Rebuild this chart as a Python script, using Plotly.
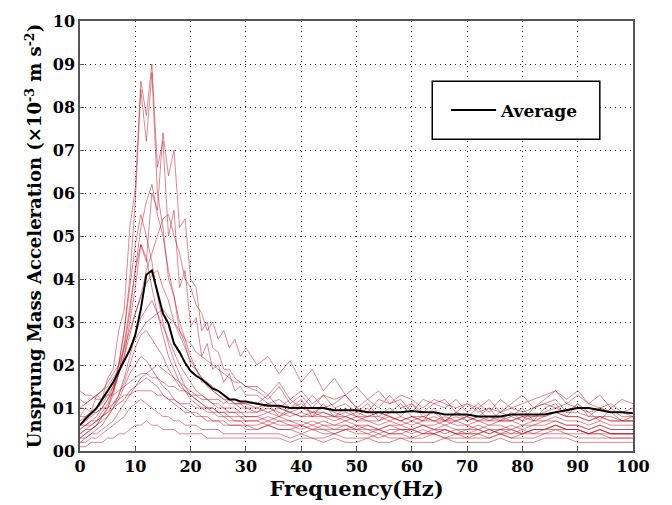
import plotly.graph_objects as go

# Frequency grid (Hz): 1 Hz steps to 30 Hz, then 2 Hz steps to 100 Hz
freq = list(range(0, 31)) + list(range(32, 101, 2))

# Individual runs (values in units of 0.01 x10^-3 m s^-2, i.e. axis label "01" = 10)
c1 = [8,10,9,13,12,17,19,28,33,52,61,86,78,90,66,72,50,56,38,42,29,31,22,25,19,20,16,18,14,15,13,
      13,11,12,10,11,9,10,9,8,9,8,9,8,7,8,8,7,8,7,8,7,8,7,7,8,7,8,9,8,8,7,8,7,7,7]
c2 = [5,6,7,8,10,12,15,20,28,40,58,84,72,88,60,52,40,36,28,25,20,19,16,16,14,13,12,12,11,11,10,
      10,9,10,9,8,9,8,8,7,8,7,7,8,7,6,7,7,6,7,6,7,6,7,7,6,7,7,8,7,7,6,7,6,6,6]
c3 = [6,7,8,9,10,12,14,18,22,30,38,48,44,60,56,74,64,70,52,54,40,38,28,30,24,23,19,19,17,16,15,
      14,12,15,11,13,10,13,10,11,9,11,8,10,8,11,8,9,7,9,8,10,7,9,8,10,7,10,11,8,11,9,7,10,8,8]
c4 = [4,5,6,7,9,11,14,18,24,32,42,52,58,62,55,50,42,36,30,26,22,19,17,15,14,13,12,11,11,10,10,
      9,10,9,8,9,8,8,7,8,7,7,6,7,6,7,6,6,7,6,6,5,6,6,5,6,6,7,7,6,6,5,6,5,5,5]
c5 = [10,11,12,13,14,16,18,20,24,28,32,36,42,46,50,54,55,50,46,40,38,34,32,28,30,26,28,24,26,22,24,
      20,22,18,21,16,19,14,17,13,15,12,14,11,13,12,10,12,11,10,11,9,10,9,10,9,10,11,10,11,10,9,10,9,9,8]
c6 = [3,4,5,6,8,10,13,18,25,34,42,48,45,38,32,27,22,19,16,14,12,11,10,9,9,8,8,7,7,7,6,
      6,7,6,6,5,6,5,5,6,5,5,4,5,5,4,5,4,5,4,4,5,4,5,4,4,5,5,6,5,5,4,5,4,4,4]
c7 = [7,8,9,10,11,13,15,18,22,27,32,36,39,41,42,38,35,30,27,24,21,19,17,16,15,14,13,12,12,11,11,
      10,11,10,9,10,9,9,8,9,8,8,9,8,7,8,7,8,7,7,8,7,7,8,7,8,8,9,10,9,9,8,8,8,7,7]
c8 = [2,3,4,5,6,8,10,13,17,22,27,31,33,35,32,29,26,23,20,18,16,14,13,12,11,10,10,9,9,8,8,
      8,7,8,7,7,6,7,6,6,5,6,5,6,5,5,6,5,5,4,5,5,4,5,5,4,5,5,6,5,5,4,5,4,4,4]
c9 = [12,11,12,13,14,15,17,19,21,24,26,28,30,31,32,33,31,30,28,26,25,23,22,21,20,19,18,17,16,16,15,
      15,13,16,12,14,11,13,12,13,10,12,10,13,10,11,9,11,10,12,9,11,9,12,10,11,12,13,14,11,13,11,10,11,9,10]
c10 = [5,6,6,7,8,9,11,13,16,20,24,27,28,26,24,22,19,17,15,14,13,12,11,10,10,9,9,8,8,8,7,
       7,8,7,7,6,7,6,6,7,6,6,5,6,6,5,6,5,6,5,5,6,5,5,6,5,6,6,7,6,6,5,6,5,5,5]
c11 = [4,5,5,6,7,8,10,12,15,18,20,22,21,19,17,15,14,12,11,10,9,9,8,8,7,7,7,6,6,6,6,
       5,6,5,5,4,5,4,4,5,4,4,3,4,4,3,4,4,3,4,3,4,3,4,3,4,4,4,5,4,4,4,4,3,3,3]
c12 = [6,6,7,7,8,9,10,11,12,14,15,17,18,19,20,19,18,17,16,15,14,13,12,12,11,11,10,10,10,9,9,
       9,11,8,10,12,8,11,8,10,8,10,7,9,11,8,7,10,7,9,7,8,10,7,9,7,10,11,12,9,11,8,10,9,7,8]
c13 = [3,3,4,4,5,6,7,9,11,13,15,16,17,16,15,13,12,11,10,9,9,8,8,7,7,7,6,6,6,6,5,
       5,6,5,5,6,5,5,4,5,5,4,5,4,4,5,4,4,5,4,4,4,5,4,4,5,4,5,5,5,5,4,4,4,4,4]
c14 = [8,8,9,9,10,10,11,12,13,13,14,14,14,14,13,13,12,12,11,11,11,10,10,10,10,9,9,9,9,9,8,
       8,9,8,9,8,8,9,8,8,7,8,8,7,8,7,8,7,7,8,7,8,7,7,8,7,8,8,9,8,8,7,8,7,7,7]
c15 = [2,2,3,3,4,5,6,7,8,10,11,12,11,10,9,8,8,7,7,6,6,6,5,5,5,5,4,4,4,4,4,
       4,4,4,3,4,3,3,4,3,3,3,4,3,3,3,3,4,3,3,3,3,3,4,3,3,3,4,4,4,3,3,3,3,3,3]
c16 = [1,1,2,2,2,3,3,4,4,5,6,6,7,6,6,5,5,5,4,4,4,4,4,3,3,3,3,3,3,3,3,
       3,3,3,2,3,3,2,3,2,2,3,2,2,3,2,2,2,3,2,2,2,2,3,2,2,2,3,3,3,2,2,2,2,2,2]
c17 = [14,13,13,12,12,13,13,14,15,16,17,18,18,17,17,16,15,15,14,14,13,13,13,12,12,12,11,12,11,11,11,
       11,13,10,12,10,13,10,11,13,10,9,12,11,12,9,12,11,12,9,11,10,12,9,11,13,10,12,14,12,14,11,13,10,12,11]
c18 = [3,4,5,6,8,10,14,20,28,38,48,55,50,44,36,30,25,21,18,15,13,12,11,10,9,9,8,8,7,7,7,
       7,6,7,6,6,5,6,5,5,6,5,5,4,5,5,4,5,4,5,4,4,5,4,5,4,5,5,6,5,5,4,5,4,4,4]

average = [6,7.5,8.7,10,12,14,16,18.5,21,23.5,27,33,41,42,37,32,29.6,25,23,20.5,18.6,17.5,16.7,15.5,14.5,14,13,12,12,11.5,11.5,
           11,10.5,10.5,10,10,10,10,9.5,9.5,9.5,9,9,9,9,9.3,9,9,8.5,8.5,8.5,8,8,8,8.5,8.5,8.5,8.5,9,9.5,10,10,9.5,9,9,8.8]

runs = [c1, c2, c3, c4, c5, c6, c7, c8, c9, c10, c11, c12, c13, c14, c15, c16, c17, c18]

xticks = [0, 10, 20, 30, 40, 50, 60, 70, 80, 90, 100]
xtick_text = ["0", "10", "20", "30", "40", "50", "60", "70", "80", "90", "100"]
yticks = [0, 10, 20, 30, 40, 50, 60, 70, 80, 90, 100]
ytick_text = ["00", "01", "02", "03", "04", "05", "06", "07", "08", "09", "10"]

FONT = "DejaVu Serif"

fig = go.Figure()
for r in runs:
    fig.add_trace(go.Scatter(x=freq, y=r, mode="lines",
                             line=dict(color="rgba(185,15,30,0.55)", width=0.9),
                             showlegend=False, hoverinfo="skip"))
fig.add_trace(go.Scatter(x=freq, y=average, mode="lines", name="<b>Average</b>",
                         line=dict(color="black", width=2)))

axis_common = dict(showline=True, linecolor="#555", linewidth=1.5, mirror=True,
                   showgrid=True, gridcolor="#222", griddash="1px,4px", gridwidth=1.3,
                   ticks="inside", ticklen=4, tickcolor="#555", zeroline=False,
                   tickfont=dict(family=FONT, size=16, color="black"))

fig.update_xaxes(range=[0, 100], tickvals=xticks, ticktext=["<b>%s</b>" % t for t in xtick_text],
                 title=dict(text="<b>Frequency(Hz)</b>", font=dict(family=FONT, size=21, color="black"), standoff=2),
                 **axis_common)
fig.update_yaxes(range=[0, 100], tickvals=yticks, ticktext=["<b>%s</b>" % t for t in ytick_text],
                 title=dict(text="<b>Unsprung Mass Acceleration (×10<sup>-3</sup> m s<sup>-2</sup>)</b>",
                            font=dict(family=FONT, size=18, color="black"), standoff=6),
                 **axis_common)

fig.add_shape(type="rect", xref="paper", yref="paper", x0=0.637, x1=0.940, y0=0.725, y1=0.86,
              line=dict(color="black", width=1.5), fillcolor="white", layer="above")

fig.update_layout(
    width=672, height=505,
    margin=dict(l=80, r=39, t=15, b=54),
    paper_bgcolor="white", plot_bgcolor="white",
    font=dict(family=FONT, color="black"),
    legend=dict(x=0.662, y=0.792, xanchor="left", yanchor="middle",
                bgcolor="rgba(0,0,0,0)", borderwidth=0, itemwidth=45,
                font=dict(family=FONT, size=17, color="black")),
)

fig.write_html("out.html")
